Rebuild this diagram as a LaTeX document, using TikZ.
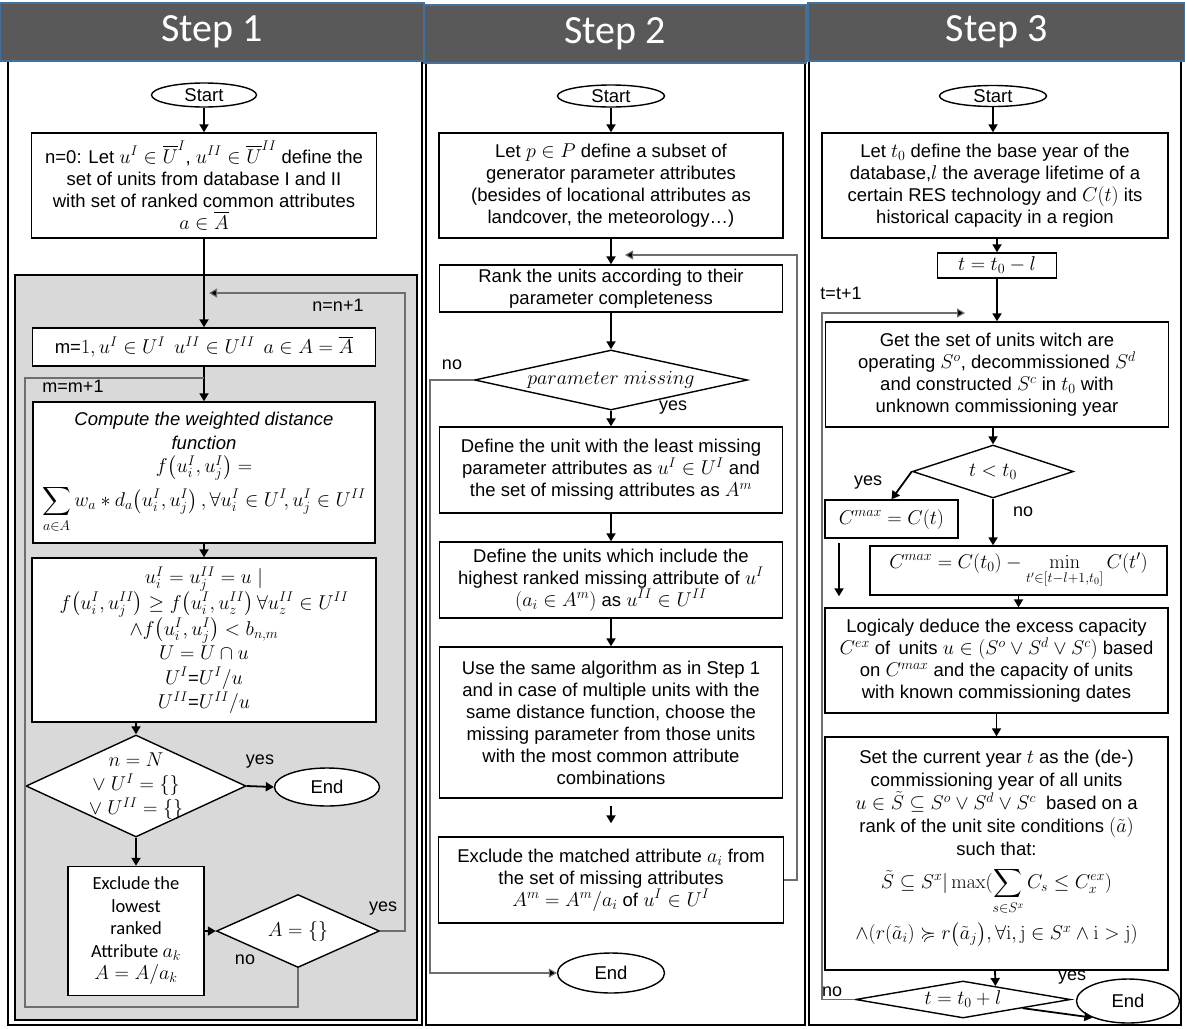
\RequirePackage{fix-cm}
\documentclass[tikz,border=0pt]{standalone}
\usepackage{amsmath,amssymb}
\usepackage[no-math]{fontspec}
\setmainfont{Liberation Sans}
\newfontfamily\calib{Carlito}
\DeclareMathSizes{18.5}{20}{14}{10}
\usetikzlibrary{shapes.geometric,arrows.meta,calc}
\definecolor{hdrgray}{RGB}{89,89,89}
\definecolor{hdrblue}{RGB}{65,113,156}
\definecolor{panelgray}{RGB}{217,217,217}
\definecolor{loopgray}{RGB}{110,110,110}
\tikzset{
  box/.style={draw, line width=1.4pt, fill=white, inner sep=1pt, align=center,
    font=\fontsize{18.5}{22}\selectfont},
  term/.style={ellipse, draw, line width=1.4pt, fill=white, inner sep=0pt,
    font=\fontsize{18.5}{22}\selectfont},
  dec/.style={diamond, draw, line width=1.4pt, fill=white, inner sep=0pt},
  dtext/.style={align=center, inner sep=0pt, font=\fontsize{18.5}{22}\selectfont},
  arr/.style={line width=1.8pt, -{Triangle[length=8pt,width=9pt]}},
  loopline/.style={line width=1.1pt, draw=loopgray},
  looparr/.style={line width=1.1pt, draw=loopgray, -{Triangle[length=8pt,width=9pt,fill=black]}},
  lab/.style={inner sep=0pt, font=\fontsize{18}{21}\selectfont},
  hdr/.style={fill=hdrgray, draw=hdrblue, line width=1.6pt, text=white, inner sep=0pt,
    font=\calib\fontsize{40}{44}\selectfont},
  frame/.style={draw, line width=2.4pt}
}
\begin{document}
\begin{tikzpicture}[x=1pt,y=-1pt]
\useasboundingbox (0,0) rectangle (1185,1028);
\fill[white] (0,0) rectangle (1185,1028);

% column frames
\draw[frame] (8,61) rectangle (422,1025);
\draw[frame] (426,63) rectangle (805,1025);
\draw[frame] (809,61) rectangle (1181,1025);
% gray panel of step 1
\draw[fill=panelgray, line width=1.3pt] (15,275) rectangle (417,1020);

% headers
\node[hdr, minimum width=424pt, minimum height=58pt] (h1) at (212,32) {Step 1};
\node[hdr, minimum width=382pt, minimum height=58pt] (h2) at (615,34) {Step 2};
\node[hdr, minimum width=377pt, minimum height=58pt] (h3) at (996.5,32) {Step 3};

% ================= STEP 1 =================
\node[term, minimum width=105pt, minimum height=24pt] (s1start) at (204,95) {Start};
\node[box, minimum width=345pt, minimum height=105pt] (s1b1) at (204,185.5)
 {n=0: Let $u^I\in\overline{U}^I$, $u^{II}\in\overline{U}^{II}$ define the\\
  set of units from database I and II\\
  with set of ranked common attributes\\
  $a\in\overline{A}$};
\node[box, minimum width=343pt, minimum height=38pt] (s1m) at (204,347)
 {m=$1,u^I\in U^I\;\, u^{II}\in U^{II}\;\, a\in A=\overline{A}$};
\node[box, minimum width=342pt, minimum height=141pt, font=\fontsize{18.5}{23.5}\selectfont] (s1c) at (204,472.5)
 {\textit{Compute the weighted distance}\\
  \textit{function}\\
  $f\bigl(u_i^I,u_j^I\bigr)=$\\[4pt]
  $\displaystyle\sum_{a\in A} w_a * d_a\bigl(u_i^I,u_j^I\bigr)\,,\forall u_i^I\in U^I\!,u_j^I\in U^{II}$};
\node[box, minimum width=344pt, minimum height=164pt, font=\fontsize{18.5}{24.5}\selectfont] (s1u) at (204,640)
 {$u_i^I=u_j^{II}=u\mid$\\
  $f\bigl(u_i^I,u_j^{II}\bigr)\ge f\bigl(u_i^I,u_z^{II}\bigr)\,\forall u_z^{II}\in U^{II}$\\
  $\wedge f\bigl(u_i^I,u_j^I\bigr)<b_{n,m}$\\
  $U=U\cap u$\\
  $U^I$=$U^I/u$\\
  $U^{II}$=$U^{II}/u$};
\node[dec, minimum width=220pt, minimum height=102pt] (s1d1) at (136,786) {};
\node[dtext, font=\fontsize{18.5}{24}\selectfont] (s1d1t) at (s1d1) {$n=N$\\ $\vee\ U^I=\{\}$\\ $\vee\ U^{II}=\{\}$};
\node[term, minimum width=105pt, minimum height=38pt] (s1end) at (327,787) {End};
\node[box, minimum width=136pt, minimum height=129pt, font=\calib\fontsize{18.5}{22.5}\selectfont] (s1ex) at (136,931)
 {Exclude the\\ lowest\\ ranked\\ Attribute $a_k$\\ $A=A/a_k$};
\node[dec, minimum width=163pt, minimum height=73pt] (s1d2) at (298,931) {};
\node[dtext] (s1d2t) at (s1d2) {$A=\{\}$};

\coordinate (s1nj) at (209,293);
\coordinate (s1mj) at (204,378);

\draw[arr] (s1start) -- (s1b1);
\draw[arr] (s1b1) -- (s1m);
\draw[arr] (s1m) -- (s1c);
\draw[arr] (s1c) -- (s1u);
\draw[arr] (s1u.south -| s1d1.north) -- (s1d1.north);
\draw[arr] (s1d1.east) -- (s1end.west);
\draw[arr] (s1d1.south) -- (s1ex.north);
\draw[arr] (s1ex.east) -- (s1d2.west);
\draw[looparr] (s1d2.east) -- (405,931) -- (405,293) -- (s1nj);
\draw[loopline] (s1d2.south) -- (298,1007) -- (25,1007) -- (25,378) -- (s1mj);

\node[lab] (l1a) at (338,305) {n=n+1};
\node[lab] (l1b) at (73,386) {m=m+1};
\node[lab] (l1c) at (260,762) {yes};
\node[lab] (l1d) at (383,909) {yes};
\node[lab] (l1e) at (245,960) {no};

% ================= STEP 2 =================
\node[term, minimum width=107pt, minimum height=22pt] (s2start) at (611,96) {Start};
\node[box, minimum width=344pt, minimum height=105pt] (s2b1) at (611,185.5)
 {Let $p\in P$ define a subset of\\
  generator parameter attributes\\
  (besides of locational attributes as\\
  landcover, the meteorology…)};
\node[box, minimum width=343pt, minimum height=47pt] (s2rank) at (611,288.5)
 {Rank the units according to their\\ parameter completeness};
\node[dec, minimum width=273pt, minimum height=60pt] (s2d) at (611,380) {};
\node[dtext] (s2dt) at (s2d) {$parameter\ missing$};
\node[box, minimum width=343pt, minimum height=86pt] (s2def1) at (611,470)
 {Define the unit with the least missing\\
  parameter attributes as $u^I\in U^I$ and\\
  the set of missing attributes as $A^m$};
\node[box, minimum width=343pt, minimum height=76pt] (s2def2) at (611,580)
 {Define the units which include the\\
  highest ranked missing attribute of $u^I$\\
  $(a_i\in A^m)$ as $u^{II}\in U^{II}$};
\node[box, minimum width=343pt, minimum height=151pt] (s2use) at (611,722.5)
 {Use the same algorithm as in Step 1\\
  and in case of multiple units with the\\
  same distance function, choose the\\
  missing parameter from those units\\
  with the most common attribute\\
  combinations};
\node[box, minimum width=345pt, minimum height=86pt] (s2exc) at (611,880)
 {Exclude the matched attribute $a_i$ from\\
  the set of missing attributes\\
  $A^m=A^m/a_i$ of $u^I\in U^I$};
\node[term, minimum width=107pt, minimum height=40pt] (s2end) at (611,973) {End};

\coordinate (s2fj) at (625,255);

\draw[arr] (s2start) -- (s2b1);
\draw[arr] (s2b1) -- (s2rank);
\draw[arr] (s2rank) -- (s2d);
\draw[arr] (s2d) -- (s2def1);
\draw[arr] (s2def1) -- (s2def2);
\draw[arr] (s2def2) -- (s2use);
\draw[arr, shorten <=7pt, shorten >=13pt] (s2use) -- (s2exc);
\draw[looparr] (s2exc.east) -- (797,880) -- (797,255) -- (s2fj);
\draw[looparr] (s2d.west) -- (430,380) -- (430,973) -- (s2end.west);

\node[lab] (l2a) at (452,365) {no};
\node[lab] (l2b) at (673,408) {yes};

% ================= STEP 3 =================
\node[term, minimum width=107pt, minimum height=21pt] (s3start) at (993,96) {Start};
\node[box, minimum width=346pt, minimum height=105pt] (s3b1) at (995,185.5)
 {Let $t_0$ define the base year of the\\
  database,$l$ the average lifetime of a\\
  certain RES technology and $C(t)$ its\\
  historical capacity in a region};
\node[box, minimum width=119pt, minimum height=25pt] (s3t) at (997,265.5) {$t=t_0-l$};
\node[box, minimum width=343pt, minimum height=105pt] (s3get) at (997,374.5)
 {Get the set of units witch are\\
  operating $S^o$, decommissioned $S^d$\\
  and constructed $S^c$ in $t_0$ with\\
  unknown commissioning year};
\node[dec, minimum width=161pt, minimum height=53pt] (s3d) at (993,471.5) {};
\node[dtext] (s3dt) at (s3d) {$t<t_0$};
\node[box, minimum width=133pt, minimum height=38pt] (s3c1) at (891.5,519) {$C^{max}=C(t)$};
\node[box, minimum width=297pt, minimum height=49pt] (s3c2) at (1018.5,570.5)
 {$\displaystyle C^{max}=C(t_0)-\min_{t'\in[t-l+1,t_0]}C(t')$};
\node[box, minimum width=343pt, minimum height=105pt] (s3log) at (996.5,660.5)
 {Logicaly deduce the excess capacity\\
  $C^{ex}$ of\, units $u\in(S^o\vee S^d\vee S^c)$ based\\
  on $C^{max}$ and the capacity of units\\
  with known commissioning dates};
\node[box, minimum width=343pt, minimum height=233pt, font=\fontsize{18.5}{23}\selectfont] (s3set) at (996.5,853.5)
 {Set the current year $t$ as the (de-)\\
  commissioning year of all units\\
  $u\in\tilde S\subseteq S^o\vee S^d\vee S^c$\ \ based on a\\
  rank of the unit site conditions $(\tilde a)$\\
  such that:\\[10pt]
  $\displaystyle\tilde S\subseteq S^x|\max(\sum_{s\in S^x}C_s\le C_x^{ex})$\\[6pt]
  $\wedge(r(\tilde a_i)\succcurlyeq r\bigl(\tilde a_j\bigr),\forall\mathrm{i,j}\in S^x\wedge\mathrm{i}>\mathrm{j})$\\[-6pt]
  \mbox{}};
\node[dec, minimum width=215pt, minimum height=37pt] (s3d2) at (963,999.5) {};
\node[dtext] (s3d2t) at (s3d2) {$t=t_0+l$};
\node[term, minimum width=103pt, minimum height=44pt] (s3end) at (1128,1001) {End};

\coordinate (s3fj) at (965,313);
\coordinate (s3xa) at (839,0);
\coordinate (s3xb) at (995,0);

\draw[arr] (s3start) -- (s3start |- s3b1.north);
\draw[arr] (s3b1.south -| s3t) -- (s3t.north);
\draw[arr] (s3t) -- (s3t |- s3get.north);
\draw[arr] (s3get.south -| s3d) -- (s3d.north);
\draw[arr] (s3d.west) -- (s3c1.north);
\draw[arr] (s3d.south) -- (s3d.south |- s3c2.north);
\draw[arr, shorten <=4pt, shorten >=11pt] (s3c1.south -| s3xa) -- (s3log.north -| s3xa);
\draw[arr] (s3c2.south) -- (s3c2.south |- s3log.north);
\draw[arr] (s3log) -- (s3set);
\draw[arr] (s3set.south -| s3xb) -- ($(s3d2.north)!0.3!(s3d2.east)$);
\draw[arr] ($(s3d2.south)!0.55!(s3d2.east)$) -- (s3end.205);
\draw[looparr] (s3d2.west) -- (822,999.5) -- (822,313) -- (s3fj);

\node[lab] (l3a) at (841,293) {t=t+1};
\node[lab] (l3b) at (868,483) {yes};
\node[lab] (l3c) at (1023,512) {no};
\node[lab] (l3d) at (1072,978) {yes};
\node[lab] (l3e) at (832,992) {no};
\end{tikzpicture}
\end{document}
